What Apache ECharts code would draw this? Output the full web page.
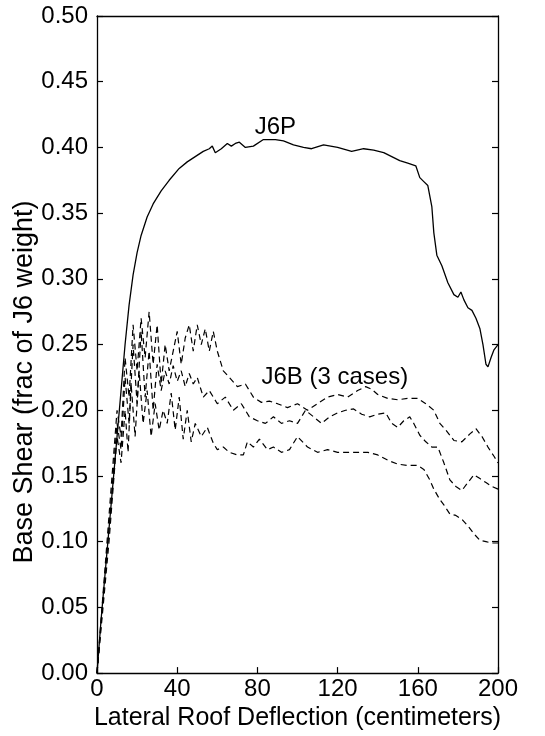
<!DOCTYPE html>
<html>
<head>
<meta charset="utf-8">
<script src="https://cdn.jsdelivr.net/npm/echarts@6/dist/echarts.min.js"></script>
<style>html,body{margin:0;padding:0;background:#fff;}#c{width:545px;height:736px;}</style>
</head>
<body>
<div id="c"></div>
<script>
// ---- data ----
var xTicks = [0, 40, 80, 120, 160, 200];
var yTicks = [0.00, 0.05, 0.10, 0.15, 0.20, 0.25, 0.30, 0.35, 0.40, 0.45, 0.50];

var j6pX = [0, 2, 4, 6, 8, 10, 12, 14, 16, 18, 20, 22, 25, 28, 32, 36, 41, 45, 49, 53, 56, 57.5, 59, 62, 65, 67, 69, 71, 74, 78, 83, 89, 93, 98, 103, 107, 113, 120, 127, 133, 138, 143, 147, 151, 155, 159, 161, 163, 165, 167, 168, 169.5, 172, 175, 178, 180, 181.5, 183, 185, 187, 189, 191, 192.5, 194, 195, 196.5, 198, 200];
var j6pY = [0, 0.04, 0.075, 0.11, 0.145, 0.18, 0.215, 0.25, 0.28, 0.303, 0.32, 0.333, 0.347, 0.357, 0.367, 0.375, 0.384, 0.389, 0.393, 0.397, 0.399, 0.401, 0.396, 0.399, 0.403, 0.401, 0.403, 0.404, 0.400, 0.401, 0.406, 0.406, 0.405, 0.402, 0.400, 0.399, 0.402, 0.400, 0.397, 0.399, 0.398, 0.396, 0.393, 0.390, 0.388, 0.386, 0.377, 0.374, 0.371, 0.355, 0.335, 0.318, 0.310, 0.297, 0.288, 0.286, 0.290, 0.284, 0.278, 0.276, 0.270, 0.262, 0.250, 0.235, 0.233, 0.240, 0.246, 0.250];

var caseAX = [0, 3, 6, 8, 10, 12, 14, 16, 18, 20, 22, 24, 26, 28, 30, 32, 34, 36, 38, 40, 42, 44, 46, 48, 50, 52, 54, 56, 58, 60, 63, 66, 70, 74, 78, 82, 86, 90, 95, 100, 105, 110, 115, 120, 125, 130, 134, 137, 140, 145, 150, 155, 160, 164, 168, 171, 174, 178, 182, 186, 189, 192, 195, 198, 200];
var caseAY = [0, 0.06, 0.12, 0.16, 0.20, 0.18, 0.24, 0.21, 0.265, 0.23, 0.27, 0.24, 0.275, 0.235, 0.265, 0.22, 0.25, 0.23, 0.245, 0.26, 0.235, 0.255, 0.265, 0.245, 0.265, 0.25, 0.262, 0.245, 0.26, 0.245, 0.23, 0.225, 0.218, 0.22, 0.21, 0.206, 0.207, 0.205, 0.202, 0.205, 0.20, 0.205, 0.21, 0.212, 0.21, 0.215, 0.218, 0.216, 0.212, 0.209, 0.208, 0.209, 0.209, 0.205, 0.20, 0.19, 0.185, 0.177, 0.176, 0.182, 0.186, 0.18, 0.172, 0.165, 0.16];

var caseBX = [0, 3, 6, 8, 10, 12, 14, 16, 18, 20, 22, 24, 26, 28, 30, 32, 34, 36, 38, 40, 42, 44, 46, 48, 50, 53, 56, 60, 64, 68, 72, 76, 80, 84, 88, 92, 96, 100, 104, 108, 112, 116, 120, 124, 128, 132, 136, 140, 144, 147, 150, 153, 156, 158, 161, 164, 167, 170, 173, 176, 179, 182, 185, 188, 191, 194, 197, 200];
var caseBY = [0, 0.055, 0.11, 0.15, 0.19, 0.17, 0.225, 0.19, 0.25, 0.205, 0.26, 0.21, 0.245, 0.20, 0.235, 0.215, 0.23, 0.22, 0.234, 0.222, 0.23, 0.218, 0.228, 0.22, 0.225, 0.21, 0.215, 0.205, 0.21, 0.20, 0.205, 0.195, 0.192, 0.19, 0.195, 0.19, 0.192, 0.19, 0.20, 0.195, 0.19, 0.195, 0.198, 0.20, 0.201, 0.197, 0.195, 0.197, 0.198, 0.19, 0.187, 0.192, 0.195, 0.19, 0.181, 0.176, 0.172, 0.172, 0.16, 0.147, 0.142, 0.139, 0.145, 0.151, 0.148, 0.145, 0.142, 0.14];

var caseCX = [0, 3, 6, 8, 10, 12, 14, 15.5, 17, 19, 21, 23, 25, 27, 29, 31, 33, 35, 37, 39, 41, 43, 45, 47, 49, 52, 55, 58, 60, 63, 66, 70, 73, 75, 78, 81, 85, 88, 92, 96, 100, 105, 110, 115, 120, 125, 130, 135, 140, 145, 150, 155, 160, 163, 166, 168, 171, 173, 176, 179, 182, 185, 188, 191, 194, 197, 200];
var caseCY = [0, 0.05, 0.10, 0.14, 0.18, 0.16, 0.20, 0.168, 0.22, 0.18, 0.23, 0.19, 0.215, 0.18, 0.205, 0.185, 0.20, 0.19, 0.213, 0.185, 0.21, 0.178, 0.20, 0.176, 0.19, 0.18, 0.187, 0.175, 0.17, 0.172, 0.168, 0.166, 0.166, 0.176, 0.172, 0.178, 0.17, 0.172, 0.168, 0.17, 0.18, 0.172, 0.168, 0.17, 0.168, 0.168, 0.168, 0.168, 0.166, 0.162, 0.159, 0.158, 0.158, 0.155, 0.147, 0.14, 0.132, 0.128, 0.121, 0.12, 0.117, 0.112, 0.106, 0.101, 0.10, 0.099, 0.099];

var labelJ6P = {text: 'J6P', x: 89, y: 0.415};
var labelJ6B = {text: 'J6B (3 cases)', x: 82, y: 0.225};

function pairs(xs, ys) { return xs.map(function (x, i) { return [x, ys[i]]; }); }

var FONT = 'Liberation Sans';
var chart = echarts.init(document.getElementById('c'), null, {renderer: 'canvas'});
var dashStyle = {color: '#000', width: 1.2, type: [6, 4]};
var tickStyle = {show: true, inside: true, length: 6, lineStyle: {color: '#000', width: 1.2}};

chart.setOption({
  animation: false,
  backgroundColor: '#fff',
  grid: {left: 97, right: 47, top: 16, bottom: 60, show: false},
  xAxis: [{
    type: 'value', min: 0, max: 200, interval: 40,
    axisLine: {show: true, lineStyle: {color: '#000', width: 1.3}},
    axisTick: tickStyle,
    axisLabel: {color: '#000', fontFamily: FONT, fontSize: 24, margin: 4},
    splitLine: {show: false},
    name: 'Lateral Roof Deflection (centimeters)', nameLocation: 'middle', nameGap: 29,
    nameTextStyle: {color: '#000', fontFamily: FONT, fontSize: 25}
  }, {
    type: 'value', min: 0, max: 200, position: 'top',
    axisLine: {show: true, onZero: false, lineStyle: {color: '#000', width: 1.3}},
    axisTick: {show: false}, axisLabel: {show: false}, splitLine: {show: false}
  }],
  yAxis: [{
    type: 'value', min: 0, max: 0.5, interval: 0.05,
    axisLine: {show: true, lineStyle: {color: '#000', width: 1.3}},
    axisTick: tickStyle,
    axisLabel: {color: '#000', fontFamily: FONT, fontSize: 24, margin: 9,
      formatter: function (v) { return v.toFixed(2); }},
    splitLine: {show: false}
  }, {
    type: 'value', min: 0, max: 0.5, interval: 0.05, position: 'right',
    axisLine: {show: true, onZero: false, lineStyle: {color: '#000', width: 1.3}},
    axisTick: tickStyle,
    axisLabel: {show: false}, splitLine: {show: false}
  }],
  graphic: [{
    type: 'text', rotation: Math.PI / 2,
    style: {text: 'Base Shear (frac of J6 weight)', fill: '#000', font: '27px "Liberation Sans"',
      textAlign: 'center', textVerticalAlign: 'middle'},
    position: [25, 382]
  }],
  series: [
    {type: 'line', data: pairs(j6pX, j6pY), showSymbol: false, smooth: false,
     lineStyle: {color: '#000', width: 1.3},
     markPoint: {symbol: 'circle', symbolSize: 0, data: [{coord: [labelJ6P.x, labelJ6P.y],
       label: {show: true, formatter: labelJ6P.text, color: '#000', fontFamily: FONT, fontSize: 24, position: 'inside'}}]}},
    {type: 'line', data: pairs(caseAX, caseAY), showSymbol: false, lineStyle: dashStyle,
     markPoint: {symbol: 'circle', symbolSize: 0, data: [{coord: [labelJ6B.x, labelJ6B.y],
       label: {show: true, formatter: labelJ6B.text, color: '#000', fontFamily: FONT, fontSize: 24, position: 'right', distance: 0}}]}},
    {type: 'line', data: pairs(caseBX, caseBY), showSymbol: false, lineStyle: dashStyle},
    {type: 'line', data: pairs(caseCX, caseCY), showSymbol: false, lineStyle: dashStyle}
  ]
});
</script>
</body>
</html>
